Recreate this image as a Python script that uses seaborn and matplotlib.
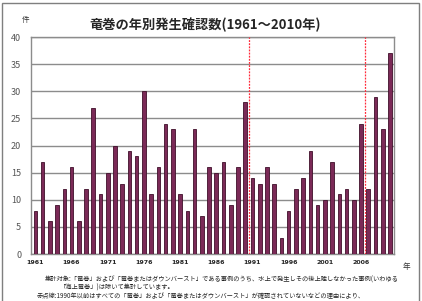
import pandas as pd
import matplotlib
matplotlib.use("Agg")
import matplotlib.pyplot as plt
import seaborn as sns
from matplotlib.patches import Rectangle

# 年別の竜巻確認数（1961〜2010年）
years = list(range(1961, 2011))
counts = [8, 17, 6, 9, 12, 16, 6, 12, 27, 11,
          15, 20, 13, 19, 18, 30, 11, 16, 24, 23,
          11, 8, 23, 7, 16, 15, 17, 9, 16, 28,
          14, 13, 16, 13, 3, 8, 12, 14, 19, 9,
          10, 17, 11, 12, 10, 24, 12, 29, 23, 37]
tick_years = [1961, 1966, 1971, 1976, 1981, 1986, 1991, 1996, 2001, 2006]
# 赤点線：この年の直後に引く
break_years = [1990, 2006]

title = "竜巻の年別発生確認数(1961～2010年)"
note_lines = [
    "集計対象:「竜巻」および「竜巻またはダウンバースト」である事例のうち、水上で発生しその後上陸しなかった事例(いわゆる",
    "「海上竜巻」)は除いて集計しています。",
    "赤点線:1990年以前はすべての「竜巻」および「竜巻またはダウンバースト」が確認されていないなどの理由により、",
]

sns.set_style("white")
plt.rcParams['font.family'] = ['Noto Sans CJK JP', 'DejaVu Sans']

df = pd.DataFrame({"year": years, "count": counts})

fig = plt.figure(figsize=(4.22, 3.01), dpi=100)
ax = fig.add_axes([0.0735, 0.156, 0.861, 0.721])

sns.barplot(data=df, x="year", y="count", color="#7b2a57", width=0.5,
            saturation=1, edgecolor="#3f0f2a", linewidth=0.6, ax=ax, zorder=3)

ax.set_ylim(0, 40)
ax.set_yticks(range(0, 41, 5))
ax.yaxis.grid(True, color="#8c8c8c", linewidth=1.0, zorder=0)
ax.set_axisbelow(True)
ax.set_xlim(-0.6, len(years) - 0.4)

tick_pos = [years.index(y) for y in tick_years]
ax.set_xticks(tick_pos)
ax.set_xticklabels([str(y) for y in tick_years], fontsize=4.5, fontweight="bold",
                   family=["DejaVu Sans"])
ax.tick_params(axis="x", length=0, pad=4)
ax.tick_params(axis="y", length=0, pad=7, labelsize=6.5, labelcolor="#555555")
ax.set_xlabel("")
ax.set_ylabel("")

for sp in ax.spines.values():
    sp.set_color("#8c8c8c")
    sp.set_linewidth(1.0)

for by in break_years:
    ax.axvline(years.index(by) + 0.5, color="#ff2a3a", linestyle=(0, (1.5, 1)),
               linewidth=0.9, zorder=4)

fig.text(0.486, 0.917, title, fontsize=9.5, fontweight="bold", ha="center", va="center")
fig.text(0.06, 0.935, "件", fontsize=5.5, ha="center", va="center", color="#333333")
fig.text(0.962, 0.113, "年", fontsize=5.5, ha="center", va="center", color="#333333")

fig.text(0.107, 0.070, note_lines[0], fontsize=4.5, va="center", color="#222222")
fig.text(0.142, 0.043, note_lines[1], fontsize=4.5, va="center", color="#222222")
fig.text(0.088, 0.015, note_lines[2], fontsize=4.5, va="center", color="#222222")

# 外枠
fig.patches.append(Rectangle((0.005, -0.02), 0.987, 1.01, transform=fig.transFigure,
                             fill=False, edgecolor="#7f7f7f", linewidth=1.0))

fig.savefig("out.png", dpi=100)
